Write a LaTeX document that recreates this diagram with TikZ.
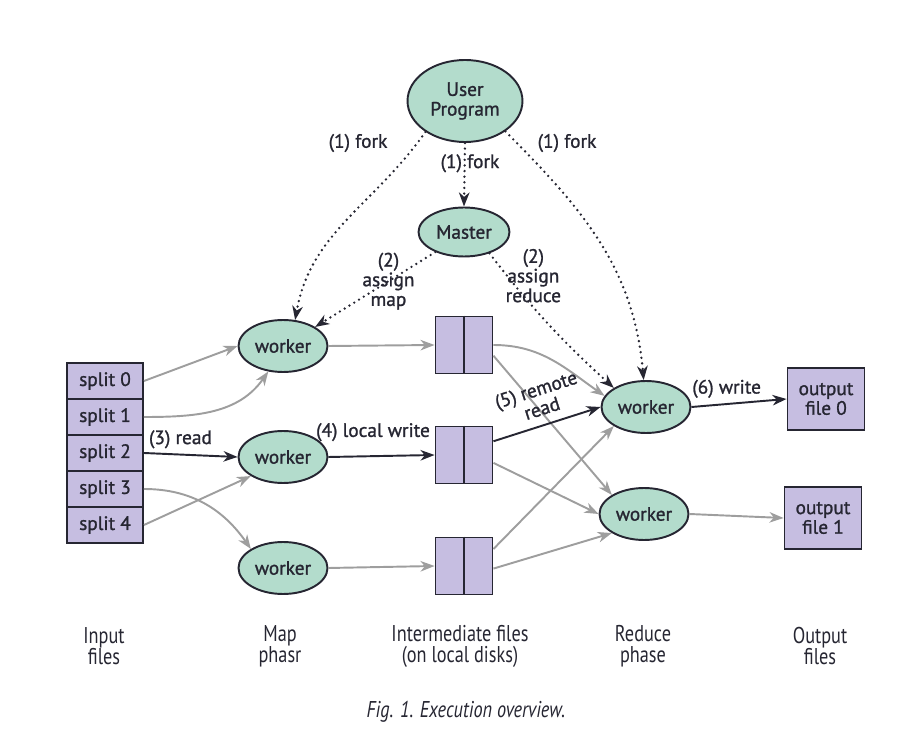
\documentclass[tikz,border=0pt]{standalone}
\usepackage{fontspec}
\setmainfont{PT Sans}[FakeBold=1.2]
\newfontfamily\narrowfont[FakeStretch=0.8]{PT Sans}
\usepackage{tikz}
\usetikzlibrary{arrows.meta,shapes.geometric,positioning}
\definecolor{procfill}{RGB}{179,220,204}
\definecolor{filefill}{RGB}{198,190,225}
\definecolor{ink}{RGB}{38,38,50}
\definecolor{pale}{RGB}{158,158,158}
\tikzset{
  proc/.style={ellipse,draw=ink,fill=procfill,line width=1.1pt,
    minimum width=1.78cm,minimum height=1.04cm,inner sep=0pt,align=center,text=ink},
  split/.style={rectangle,draw=ink,fill=filefill,line width=1.1pt,
    minimum width=1.52cm,minimum height=0.72cm,text=ink},
  disk/.style={rectangle,draw=ink,fill=filefill,line width=1.1pt,minimum size=1.14cm},
  outbox/.style={rectangle,draw=ink,fill=filefill,line width=1.1pt,
    minimum width=1.54cm,minimum height=1.24cm,align=center,text=ink},
  tip/.style={-{Stealth[length=8pt,width=6pt,inset=2.5pt]}},
  main/.style={draw=ink,line width=1.1pt,tip},
  side/.style={draw=pale,line width=1.1pt,tip},
  ctrl/.style={draw=ink,line width=1.5pt,line cap=round,dash pattern=on 0pt off 3.2pt,tip},
  lbl/.style={text=ink,align=center,inner sep=1pt},
  phase/.style={text=ink,align=center,font=\narrowfont\fontsize{13}{12}\selectfont}
}
\begin{document}
\begin{tikzpicture}[x=0.02cm,y=-0.02cm,font=\fontsize{11}{11.2}\selectfont]
  \useasboundingbox (0,0) rectangle (900,733);

  \node[proc,minimum width=2.3cm,minimum height=1.64cm] (up) at (465,101) {User\\Program};
  \node[proc,minimum width=1.82cm,minimum height=0.98cm] (ms) at (464,232) {Master};
  \node[proc] (wm1) at (283,346) {worker};
  \node[proc] (wm2) at (283,457) {worker};
  \node[proc] (wm3) at (283,568) {worker};
  \node[proc] (wr1) at (646,407) {worker};
  \node[proc] (wr2) at (644,514) {worker};

  \foreach \i in {0,...,4}
    \node[split] (s\i) at (105,381+36*\i) {split \i};
  \foreach \y [count=\i] in {345,455,566}{
    \node[disk] (mf\i) at (464,\y) {};
    \draw[ink,line width=1.1pt] (mf\i.north) -- (mf\i.south);
  }
  \node[outbox] (out0) at (826,399) {output\\file 0};
  \node[outbox] (out1) at (823,518) {output\\file 1};

  \draw[ctrl] (up.218) to[out=235,in=80] (wm1.65);
  \node[lbl] (fk1) at (358,143) {(1) fork};
  \draw[ctrl] (up.south) -- (ms.north) node[lbl,pos=0.32,xshift=3pt]{(1) fork};
  \draw[ctrl] (up.-37) to[out=-45,in=95] (wr1.95);
  \node[lbl] (fk3) at (567,143) {(1) fork};
  \draw[ctrl] (ms.215) -- (wm1.north east) node[lbl,pos=0.39]{(2)\\assign\\map};
  \draw[ctrl] (ms.-40) to[bend right=5] node[lbl,pos=0.14,xshift=15pt]{(2)\\assign\\reduce} (wr1.north west);

  \draw[side] (s0.east) -- (wm1.west);
  \draw[side] (s1.east) to[out=0,in=235] (wm1.240);
  \draw[main] (s2.east) -- (wm2.west) node[lbl,pos=0.39,above=2pt]{(3) read};
  \draw[side] (s3.east) to[out=0,in=125] (wm3.north west);
  \draw[side] (s4.east) -- (wm2.south west);

  \draw[side] (wm1.east) -- (mf1.west);
  \draw[main] (wm2.east) -- (mf2.west) node[lbl,pos=0.42,above=7pt]{(4) local write};
  \draw[side] (wm3.east) -- (mf3.west);

  \draw[side] (mf1.east) to[out=0,in=145] (wr1.165);
  \draw[side] (mf1.-20) -- (wr2.north west);
  \draw[main] (mf2.25) -- (wr1.west) node[lbl,midway,above=4pt,sloped]{(5) remote\\read};
  \draw[side] (mf2.-15) -- (wr2.west);
  \draw[side] (mf3.30) -- (wr1.south west);
  \draw[side] (mf3.-5) -- (wr2.south west);

  \draw[main] (wr1.east) -- (out0.west) node[lbl,pos=0.37,above=2pt]{(6) write};
  \draw[side] (wr2.east) -- (out1.west);

  \node[phase] (inlbl) at (104,646) {Input\\files};
  \node[phase] (maplbl) at (280,646) {Map\\phasr};
  \node[phase] (midlbl) at (460,646) {Intermediate files\\(on local disks)};
  \node[phase] (redlbl) at (643,646) {Reduce\\phase};
  \node[phase] (outlbl) at (820,646) {Output\\files};
  \node[phase,font=\narrowfont\itshape\fontsize{13}{12}\selectfont] (cap) at (466,712) {Fig. 1. Execution overview.};
\end{tikzpicture}
\end{document}
